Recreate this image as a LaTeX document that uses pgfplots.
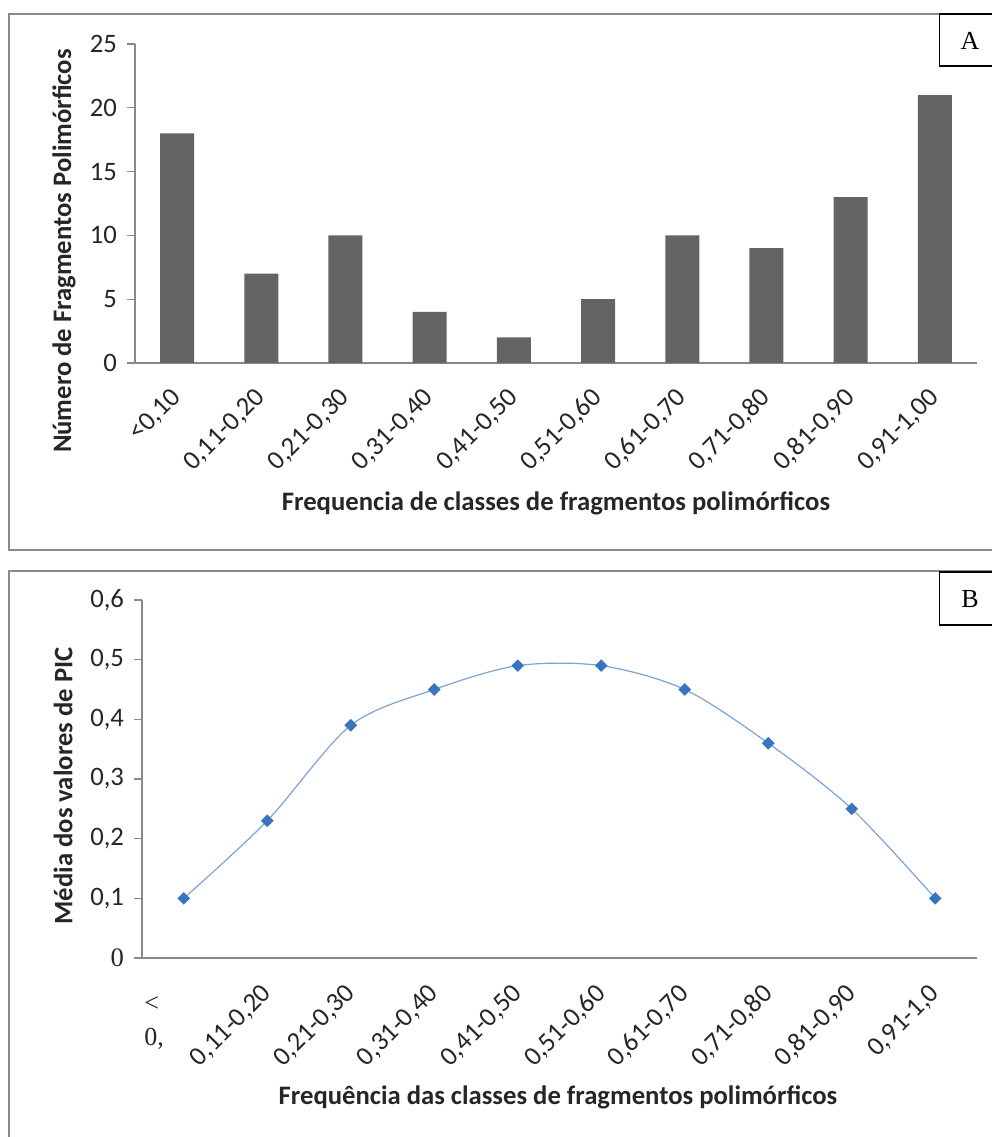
\documentclass[border=0pt]{standalone}
\usepackage{fontspec}
\setmainfont{Carlito}
\newfontfamily\tnr{Liberation Serif}
\usepackage{pgfplots}
\pgfplotsset{compat=1.18}
\definecolor{bargray}{HTML}{646464}
\definecolor{axgray}{HTML}{888888}
\definecolor{framegray}{HTML}{8A8A8A}
\definecolor{linblue}{HTML}{7AA3D6}
\definecolor{markblue}{HTML}{3A74BF}
\definecolor{tickcol}{HTML}{262626}
\begin{document}
\begin{tikzpicture}[x=0.75pt,y=0.75pt]
\useasboundingbox (0,0) rectangle (991,1137);
% panel frames
\draw[framegray, line width=1.6pt] (9,1123) rectangle (1010,587);
\draw[framegray, line width=1.6pt] (9,566) rectangle (1010,-20);

% ---------------- Panel A ----------------
\begin{axis}[at={(132.8pt,580.5pt)}, anchor=origin, scale only axis,
  width=631.5pt, height=239.25pt,
  xmin=-0.5, xmax=9.5, ymin=0, ymax=25,
  axis lines*=left, axis line style={axgray, line width=0.9pt},
  xtick={0,...,9},
  xticklabels={{<0,10},{0,11-0,20},{0,21-0,30},{0,31-0,40},{0,41-0,50},{0,51-0,60},{0,61-0,70},{0,71-0,80},{0,81-0,90},{0,91-1,00}},
  x tick style={draw=none},
  ytick={0,5,10,15,20,25},
  yticklabels={0,5,10,15,20,25},
  y tick style={axgray, line width=0.9pt},
  tick align=outside, major tick length=6pt,
  ticklabel style={font=\fontsize{20}{20}\selectfont, text=tickcol},
  xticklabel style={rotate=45, anchor=east, yshift=-12pt, xshift=-8.7pt},
  yticklabel style={xshift=-4pt},
  clip=false]
\addplot[ybar, bar width=25.5pt, fill=bargray, draw=none] coordinates {
 (0,18) (1,7) (2,10) (3,4) (4,2) (5,5) (6,10) (7,9) (8,13) (9,21)};
\end{axis}
\node[rotate=90, font=\bfseries\fontsize{20}{20}\selectfont, text=tickcol] at (64,886) {Número de Fragmentos Polimórficos};
\node[font=\bfseries\fontsize{20}{20}\selectfont, text=tickcol] at (556,634) {Frequencia de classes de fragmentos polimórficos};
\draw[black, line width=1.1pt, fill=white] (939.5,1071) rectangle (1010,1123);
\node[font=\tnr\fontsize{19.5}{20}\selectfont] at (970,1096) {A};

% ---------------- Panel B ----------------
\begin{axis}[at={(137.8pt,134.25pt)}, anchor=origin, scale only axis,
  width=626.25pt, height=268.5pt,
  xmin=-0.5, xmax=9.5, ymin=0, ymax=0.6,
  axis lines*=left, axis line style={axgray, line width=0.9pt},
  xtick={0,...,9},
  xticklabels={{},{0,11-0,20},{0,21-0,30},{0,31-0,40},{0,41-0,50},{0,51-0,60},{0,61-0,70},{0,71-0,80},{0,81-0,90},{0,91-1,0}},
  x tick style={draw=none},
  ytick={0,0.1,0.2,0.3,0.4,0.5,0.6},
  yticklabels={{\tnr 0},{0,1},{0,2},{0,3},{0,4},{0,5},{0,6}},
  y tick style={axgray, line width=0.9pt},
  tick align=outside, major tick length=6pt,
  ticklabel style={font=\fontsize{20}{20}\selectfont, text=tickcol},
  xticklabel style={rotate=45, anchor=east, yshift=-12.7pt, xshift=-9pt},
  yticklabel style={xshift=-4pt},
  clip=false]
\addplot[linblue, line width=0.9pt, smooth, tension=0.5,
  mark=square*, mark size=2.9pt,
  mark options={rotate=45, fill=markblue, draw=markblue, solid}] coordinates {
 (0,0.10) (1,0.23) (2,0.39) (3,0.45) (4,0.49) (5,0.49) (6,0.45) (7,0.36) (8,0.25) (9,0.10)};
\end{axis}
\node[anchor=north west, align=left, font=\tnr\fontsize{19.5}{25.5}\selectfont, text=tickcol, inner sep=0pt] at (144,141) {<\\0,};
\node[rotate=90, font=\bfseries\fontsize{20}{20}\selectfont, text=tickcol] at (63,351) {Média dos valores de PIC};
\node[font=\bfseries\fontsize{20}{20}\selectfont, text=tickcol] at (558,40) {Frequência das classes de fragmentos polimórficos};
\draw[black, line width=1.1pt, fill=white] (939.5,512) rectangle (1010,565);
\node[font=\tnr\fontsize{19.5}{20}\selectfont] at (970,538) {B};
\end{tikzpicture}
\end{document}
